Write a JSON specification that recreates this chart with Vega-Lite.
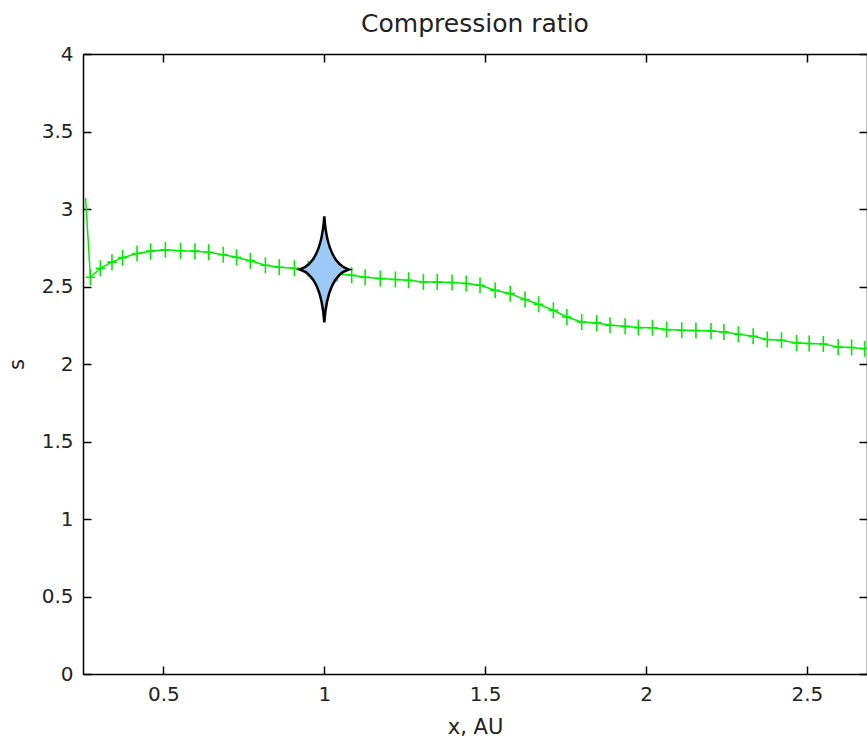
{
  "$schema": "https://vega.github.io/schema/vega-lite/v6.json",
  "width": 784,
  "height": 620,
  "autosize": {"type": "none"},
  "padding": {"left": 83, "top": 54, "right": 0, "bottom": 65},
  "background": "white",
  "title": {"text": "Compression ratio", "font": "DejaVu Sans", "fontSize": 25, "fontWeight": "normal", "color": "#222", "offset": 7},
  "config": {
    "view": {"stroke": null},
    "axis": {"grid": false, "domainColor": "#000", "domainWidth": 1.5, "tickColor": "#000", "tickWidth": 1.5, "tickSize": -8,
      "labelFont": "DejaVu Sans", "labelFontSize": 20, "labelColor": "#222",
      "titleFont": "DejaVu Sans", "titleFontSize": 21, "titleFontWeight": "normal", "titleColor": "#222"}
  },
  "datasets": {
    "ratio": [
      {"x": 0.258, "s": 3.07},
      {"x": 0.273, "s": 2.56},
      {"x": 0.304, "s": 2.618},
      {"x": 0.340, "s": 2.657},
      {"x": 0.373, "s": 2.686},
      {"x": 0.418, "s": 2.713},
      {"x": 0.460, "s": 2.728},
      {"x": 0.506, "s": 2.737},
      {"x": 0.553, "s": 2.731},
      {"x": 0.598, "s": 2.728},
      {"x": 0.641, "s": 2.721},
      {"x": 0.686, "s": 2.705},
      {"x": 0.727, "s": 2.689},
      {"x": 0.770, "s": 2.666},
      {"x": 0.817, "s": 2.637},
      {"x": 0.860, "s": 2.624},
      {"x": 0.907, "s": 2.618},
      {"x": 0.950, "s": 2.615},
      {"x": 0.997, "s": 2.605},
      {"x": 1.040, "s": 2.582},
      {"x": 1.085, "s": 2.573},
      {"x": 1.127, "s": 2.560},
      {"x": 1.174, "s": 2.551},
      {"x": 1.221, "s": 2.545},
      {"x": 1.262, "s": 2.540},
      {"x": 1.308, "s": 2.529},
      {"x": 1.351, "s": 2.529},
      {"x": 1.397, "s": 2.526},
      {"x": 1.441, "s": 2.519},
      {"x": 1.484, "s": 2.508},
      {"x": 1.531, "s": 2.476},
      {"x": 1.578, "s": 2.454},
      {"x": 1.624, "s": 2.416},
      {"x": 1.666, "s": 2.385},
      {"x": 1.712, "s": 2.347},
      {"x": 1.754, "s": 2.303},
      {"x": 1.800, "s": 2.271},
      {"x": 1.847, "s": 2.265},
      {"x": 1.888, "s": 2.250},
      {"x": 1.935, "s": 2.243},
      {"x": 1.976, "s": 2.235},
      {"x": 2.020, "s": 2.234},
      {"x": 2.064, "s": 2.222},
      {"x": 2.111, "s": 2.218},
      {"x": 2.155, "s": 2.216},
      {"x": 2.202, "s": 2.213},
      {"x": 2.242, "s": 2.207},
      {"x": 2.287, "s": 2.192},
      {"x": 2.333, "s": 2.179},
      {"x": 2.377, "s": 2.158},
      {"x": 2.421, "s": 2.153},
      {"x": 2.468, "s": 2.136},
      {"x": 2.507, "s": 2.132},
      {"x": 2.551, "s": 2.129},
      {"x": 2.597, "s": 2.110},
      {"x": 2.639, "s": 2.106},
      {"x": 2.680, "s": 2.099}
    ],
    "star": [{"x": 1.0, "s": 2.61}]
  },
  "layer": [
    {
      "data": {"name": "ratio"},
      "mark": {"type": "line", "color": "#00ee00", "strokeWidth": 1.5, "clip": true},
      "encoding": {
        "x": {"field": "x", "type": "quantitative", "scale": {"domain": [0.25, 2.6868], "nice": false, "zero": false},
          "axis": {"orient": "bottom", "title": "x, AU", "values": [0.5, 1, 1.5, 2, 2.5], "format": "~g", "labelPadding": 18, "titlePadding": 12, "labelFlush": false, "labelOverlap": false}},
        "y": {"field": "s", "type": "quantitative", "scale": {"domain": [0, 4], "nice": false, "zero": false},
          "axis": {"orient": "left", "title": "s", "values": [0, 0.5, 1, 1.5, 2, 2.5, 3, 3.5, 4], "format": "~g", "labelPadding": 18, "titlePadding": 14, "labelFlush": false, "labelOverlap": false}}
      }
    },
    {
      "data": {"name": "ratio"},
      "transform": [{"filter": "datum.x > 0.26"}],
      "mark": {"type": "point", "shape": "M0,-1V1M-0.6,0H0.6", "filled": false, "stroke": "#00ee00", "strokeWidth": 1.6, "opacity": 1, "clip": true},
      "encoding": {
        "x": {"field": "x", "type": "quantitative",
          "axis": {"orient": "top", "title": null, "labels": false, "values": [0.5, 1, 1.5, 2, 2.5]}},
        "y": {"field": "s", "type": "quantitative",
          "axis": {"orient": "right", "title": null, "labels": false, "values": [0, 0.5, 1, 1.5, 2, 2.5, 3, 3.5, 4]}},
        "size": {"value": 256}
      }
    },
    {
      "data": {"name": "star"},
      "mark": {"type": "point", "shape": "M0,-1 Q0.06,-0.12 0.46,0 Q0.06,0.12 0,1 Q-0.06,0.12 -0.46,0 Q-0.06,-0.12 0,-1 Z", "filled": true, "fill": "#9cc9f5", "stroke": "#000", "strokeWidth": 2.5, "opacity": 1},
      "encoding": {
        "x": {"field": "x", "type": "quantitative", "axis": null},
        "y": {"field": "s", "type": "quantitative", "axis": null},
        "size": {"value": 11236}
      }
    }
  ],
  "resolve": {"axis": {"x": "independent", "y": "independent"}}
}
